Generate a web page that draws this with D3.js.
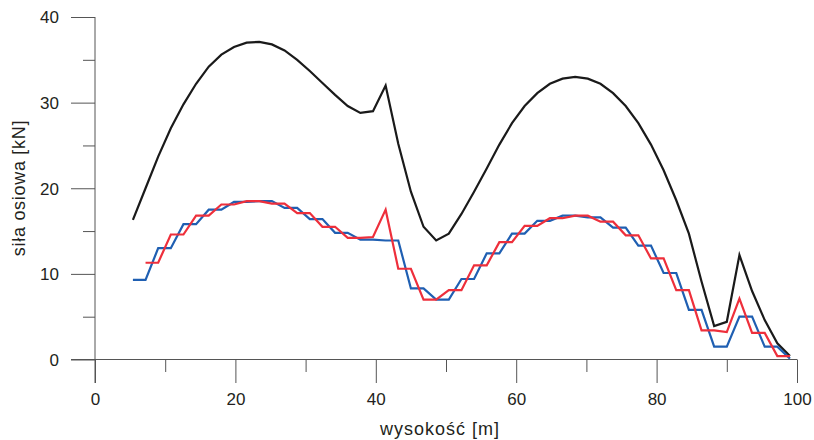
<!DOCTYPE html>
<html>
<head>
<meta charset="utf-8">
<script src="https://cdn.jsdelivr.net/npm/d3@7"></script>
<style>
  body { margin: 0; background: #fff; }
  text { font-family: 'Liberation Sans', Arial, sans-serif; fill: #231f20; }
</style>
</head>
<body>
<div id="chart"></div>
<script>
// data
var heights = [5.4, 7.2, 9.0, 10.8, 12.6, 14.4, 16.2, 18.0, 19.8, 21.6,
  23.4, 25.2, 27.0, 28.8, 30.6, 32.4, 34.2, 36.0, 37.8, 39.6,
  41.4, 43.2, 45.0, 46.8, 48.6, 50.4, 52.2, 54.0, 55.8, 57.6,
  59.4, 61.2, 63.0, 64.8, 66.6, 68.4, 70.2, 72.0, 73.8, 75.6,
  77.4, 79.2, 81.0, 82.8, 84.6, 86.4, 88.2, 90.0, 91.8, 93.6,
  95.4, 97.2, 99.0];
var forceBlack = [16.3, 20.0, 23.7, 27.0, 29.8, 32.2, 34.2, 35.6, 36.5, 37.0,
  37.1, 36.8, 36.1, 35.0, 33.7, 32.3, 30.9, 29.6, 28.8, 29.0,
  32.0, 25.2, 19.6, 15.5, 13.9, 14.7, 17.0, 19.6, 22.3, 25.1,
  27.6, 29.6, 31.1, 32.2, 32.8, 33.0, 32.8, 32.2, 31.1, 29.6,
  27.6, 25.1, 22.1, 18.6, 14.7, 9.1, 3.9, 4.4, 12.2, 8.0,
  4.6, 1.9, 0.4];
var forceBlue = [9.3, 9.3, 13.0, 13.0, 15.8, 15.8, 17.5, 17.5, 18.4, 18.4,
  18.5, 18.5, 17.7, 17.7, 16.4, 16.4, 14.8, 14.8, 14.0, 14.0,
  13.9, 13.9, 8.3, 8.3, 7.0, 7.0, 9.4, 9.4, 12.4, 12.4,
  14.7, 14.7, 16.2, 16.2, 16.8, 16.8, 16.6, 16.6, 15.4, 15.4,
  13.3, 13.3, 10.1, 10.1, 5.8, 5.8, 1.5, 1.5, 5.0, 5.0,
  1.5, 1.5, 0.1];
var forceRed = [null, 11.3, 11.3, 14.6, 14.6, 16.8, 16.8, 18.1, 18.1, 18.5,
  18.5, 18.2, 18.2, 17.1, 17.1, 15.5, 15.5, 14.2, 14.2, 14.3,
  17.5, 10.6, 10.6, 7.0, 7.0, 8.1, 8.1, 11.0, 11.0, 13.7,
  13.7, 15.6, 15.6, 16.5, 16.5, 16.8, 16.8, 16.1, 16.1, 14.5,
  14.5, 11.8, 11.8, 8.1, 8.1, 3.4, 3.4, 3.2, 7.1, 3.1,
  3.1, 0.4, 0.4];
var xTicks = [0, 10, 20, 30, 40, 50, 60, 70, 80, 90, 100];
var yTicks = [0, 5, 10, 15, 20, 25, 30, 35, 40];

var W = 814, H = 440;
var svg = d3.select('#chart').append('svg')
  .attr('width', W).attr('height', H);

var x = d3.scaleLinear().domain([0, 100]).range([95, 797]);
var y = d3.scaleLinear().domain([0, 40]).range([359.5, 17]);

var axisColor = '#555';

// axis lines
svg.append('line')
  .attr('x1', 71).attr('x2', x(100))
  .attr('y1', y(0)).attr('y2', y(0))
  .attr('stroke', axisColor).attr('stroke-width', 1);
svg.append('line')
  .attr('x1', x(0)).attr('x2', x(0))
  .attr('y1', y(40)).attr('y2', 383)
  .attr('stroke', axisColor).attr('stroke-width', 1);

// x ticks (major down 23px, minor 12px)
var xAxis = d3.axisBottom(x).tickValues(xTicks)
  .tickSize(0).tickFormat(function (d) { return d % 20 === 0 ? d : ''; });
var gx = svg.append('g').attr('transform', 'translate(0,' + y(0) + ')').call(xAxis);
gx.select('.domain').remove();
gx.selectAll('.tick line')
  .attr('y2', function (d) { return d % 20 === 0 ? 23.5 : 12.5; })
  .attr('stroke', axisColor);
gx.selectAll('.tick text')
  .attr('y', 45).attr('dy', 0)
  .style('font-size', '17px')
  .style('font-family', "'Liberation Sans', Arial, sans-serif")
  .attr('fill', '#231f20');

// y ticks (major left 24px, minor 12px)
var yAxis = d3.axisLeft(y).tickValues(yTicks)
  .tickSize(0).tickFormat(function (d) { return d % 10 === 0 ? d : ''; });
var gy = svg.append('g').attr('transform', 'translate(' + x(0) + ',0)').call(yAxis);
gy.select('.domain').remove();
gy.selectAll('.tick line')
  .attr('x2', function (d) { return d % 10 === 0 ? -24 : -12; })
  .attr('stroke', axisColor);
gy.selectAll('.tick text')
  .attr('x', -36).attr('dy', '0.35em')
  .style('font-size', '17px')
  .style('font-family', "'Liberation Sans', Arial, sans-serif")
  .attr('fill', '#231f20');

// axis titles
svg.append('text')
  .attr('x', 440).attr('y', 435)
  .attr('text-anchor', 'middle')
  .style('font-size', '18px')
  .style('letter-spacing', '1px')
  .text('wysokość [m]');
svg.append('text')
  .attr('transform', 'translate(25,188) rotate(-90)')
  .attr('text-anchor', 'middle')
  .style('font-size', '18px')
  .style('letter-spacing', '0.7px')
  .text('siła osiowa [kN]');

// lines
function draw (values, color) {
  var pts = heights.map(function (h, i) { return [h, values[i]]; })
    .filter(function (p) { return p[1] !== null; });
  var line = d3.line()
    .x(function (d) { return x(d[0]); })
    .y(function (d) { return y(d[1]); });
  svg.append('path')
    .datum(pts)
    .attr('d', line)
    .attr('fill', 'none')
    .attr('stroke', color)
    .attr('stroke-width', 2.2)
    .attr('stroke-linejoin', 'miter');
}
draw(forceBlack, '#1a1a1a');
draw(forceBlue, '#1f5fb2');
draw(forceRed, '#ee2f3b');
</script>
</body>
</html>
